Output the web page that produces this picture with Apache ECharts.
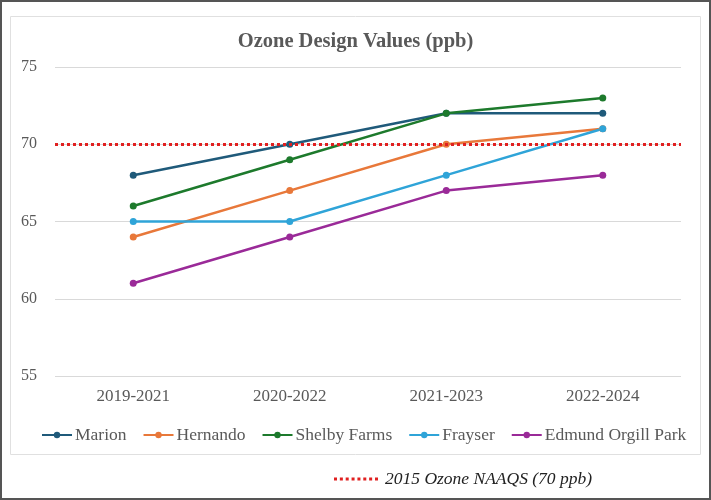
<!DOCTYPE html>
<html><head><meta charset="utf-8">
<script src="https://cdn.jsdelivr.net/npm/echarts@6/dist/echarts.min.js"></script>
<style>html,body{margin:0;padding:0;background:#fff}#c{width:711px;height:500px}</style>
</head><body><div id="c"></div>
<script>
var categories = ['2019-2021', '2020-2022', '2021-2023', '2022-2024'];
var marion = [68, 70, 72, 72];
var hernando = [64, 67, 70, 71];
var shelbyFarms = [66, 69, 72, 73];
var frayser = [65, 65, 68, 71];
var edmundOrgillPark = [61, 64, 67, 68];
var naaqs = 70;
var yTicks = [55, 60, 65, 70, 75];

var font = '"Liberation Serif", "DejaVu Serif", serif';
function s(name, data, color) {
  return {name: name, type: 'line', data: data, symbol: 'circle', symbolSize: 7,
    lineStyle: {width: 2.5, color: color}, itemStyle: {color: color}};
}
var dotPath = 'path://';
for (var i = 0; i < 8; i++) { var x0 = (i * 41 / 7).toFixed(2); dotPath += 'M' + x0 + ',0h3v3h-3z'; }

var chart = echarts.init(document.getElementById('c'));
chart.setOption({
  animation: false,
  title: {text: 'Ozone Design Values (ppb)', left: 'center', top: 26,
    textStyle: {fontFamily: font, fontSize: 20.5, fontWeight: 'bold', color: '#595959'}},
  grid: {left: 55, right: 30, top: 67, bottom: 124},
  xAxis: {type: 'category', data: categories, boundaryGap: true,
    axisLine: {show: false}, axisTick: {show: false},
    axisLabel: {fontFamily: font, fontSize: 17, color: '#595959', margin: 12}},
  yAxis: {type: 'value', min: yTicks[0], max: yTicks[yTicks.length - 1], interval: 5,
    axisLine: {show: false}, axisTick: {show: false},
    axisLabel: {fontFamily: font, fontSize: 16, color: '#595959', margin: 18},
    splitLine: {lineStyle: {color: '#d9d9d9', width: 1}}},
  legend: [{
    data: ['Marion', 'Hernando', 'Shelby Farms', 'Frayser', 'Edmund Orgill Park'],
    top: 421, left: 36, itemWidth: 30, itemHeight: 8, itemGap: 16,
    textStyle: {fontFamily: font, fontSize: 17.5, color: '#595959', padding: [0, 0, 0, -2]}
  }, {
    data: [{name: '2015 Ozone NAAQS (70 ppb)', icon: dotPath}],
    top: 465, left: 329, itemWidth: 44, itemHeight: 3,
    textStyle: {fontFamily: font, fontSize: 17.5, fontStyle: 'italic', color: '#222', padding: [0, 0, 0, 2]}
  }],
  graphic: [
    {type: 'rect', shape: {x: 1, y: 1, width: 709, height: 498},
      style: {fill: 'none', stroke: '#555', lineWidth: 2}, silent: true},
    {type: 'rect', shape: {x: 10.5, y: 16.5, width: 690, height: 438},
      style: {fill: 'none', stroke: '#e0e0e0', lineWidth: 1}, silent: true}
  ],
  series: [
    s('Marion', marion, '#1f5a7a'),
    s('Hernando', hernando, '#e8783a'),
    s('Shelby Farms', shelbyFarms, '#1d7a2c'),
    s('Frayser', frayser, '#2fa4d8'),
    s('Edmund Orgill Park', edmundOrgillPark, '#9a2a98'),
    {name: '2015 Ozone NAAQS (70 ppb)', type: 'line', data: [], symbol: 'none',
      lineStyle: {color: '#e02020', width: 3, type: 'dotted'},
      itemStyle: {color: '#e02020'},
      markLine: {silent: true, symbol: 'none', label: {show: false},
        lineStyle: {color: '#e02020', width: 3, type: 'dotted'},
        data: [{yAxis: naaqs}]}}
  ]
});
</script></body></html>
